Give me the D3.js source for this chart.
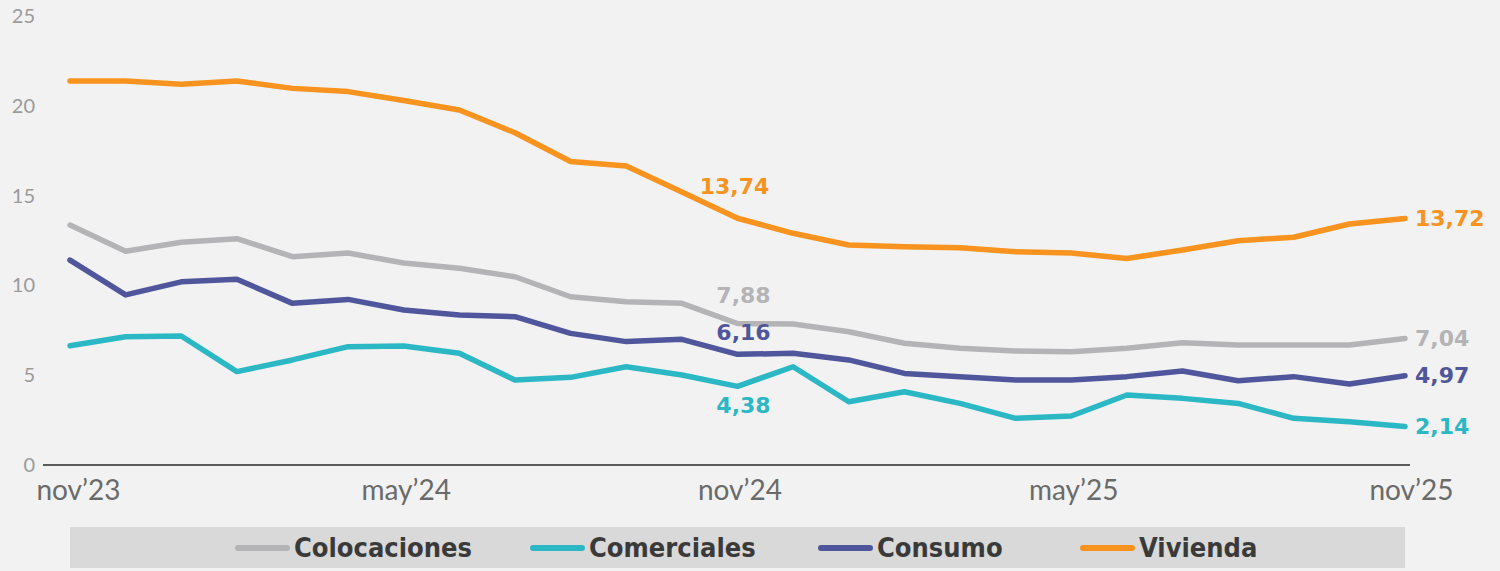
<!DOCTYPE html>
<html>
<head>
<meta charset="utf-8">
<script src="https://cdn.jsdelivr.net/npm/d3@7"></script>
<style>
  html, body { margin: 0; padding: 0; background: #f2f2f2; }
  svg { display: block; }
  .tick line { display: none; }
</style>
</head>
<body>
<script>
// Dimensions
const width = 1500, height = 571;
const margin = { left: 70, right: 95, top: 16, bottom: 106 };

// Months (nov'23 .. nov'25)
const months = ["nov’23","dic’23","ene’24","feb’24","mar’24","abr’24","may’24","jun’24","jul’24","ago’24","sep’24","oct’24",
                "nov’24","dic’24","ene’25","feb’25","mar’25","abr’25","may’25","jun’25","jul’25","ago’25","sep’25","oct’25","nov’25"];
const tickMonths = ["nov’23","may’24","nov’24","may’25","nov’25"];
const yTicks = [0, 5, 10, 15, 20, 25];

// Series values (%)
const colocaciones = [13.36, 11.9, 12.4, 12.6, 11.6, 11.8, 11.25, 10.95, 10.48, 9.37, 9.09, 9.0, 7.88,
                      7.85, 7.42, 6.78, 6.5, 6.35, 6.31, 6.5, 6.81, 6.68, 6.68, 6.68, 7.04];
const comerciales  = [6.64, 7.14, 7.18, 5.2, 5.85, 6.59, 6.63, 6.22, 4.73, 4.88, 5.47, 5.01, 4.38,
                      5.47, 3.52, 4.08, 3.43, 2.6, 2.73, 3.9, 3.71, 3.43, 2.6, 2.41, 2.14];
const consumo      = [11.41, 9.47, 10.2, 10.34, 9.0, 9.22, 8.63, 8.35, 8.26, 7.33, 6.87, 7.0, 6.16,
                      6.22, 5.85, 5.1, 4.92, 4.73, 4.73, 4.92, 5.23, 4.69, 4.92, 4.51, 4.97];
const vivienda     = [21.38, 21.38, 21.2, 21.38, 20.97, 20.79, 20.3, 19.77, 18.5, 16.9, 16.65, 15.2, 13.74,
                      12.9, 12.25, 12.15, 12.1, 11.88, 11.8, 11.5, 11.97, 12.49, 12.68, 13.42, 13.72];

const seriesNames = ["Colocaciones", "Comerciales", "Consumo", "Vivienda"];
const seriesColors = ["#b4b4b7", "#2cb7c5", "#50569b", "#f7931e"];
const seriesValues = [colocaciones, comerciales, consumo, vivienda];

// labels at nov'24: vertical offset from the point
const midOffsets = [-28, 19, -22, -32];

const series = seriesNames.map((name, i) => ({
  name, color: seriesColors[i], values: seriesValues[i], midOffset: midOffsets[i]
}));

const svg = d3.select("body").append("svg")
    .attr("width", width)
    .attr("height", height);

svg.append("rect").attr("width", width).attr("height", height).attr("fill", "#f2f2f2");

const x = d3.scalePoint()
    .domain(months)
    .range([margin.left, width - margin.right]);

const y = d3.scaleLinear()
    .domain([0, 25])
    .range([height - margin.bottom, margin.top]);

// y axis labels
svg.append("g")
    .selectAll("text")
    .data(yTicks)
    .enter()
    .append("text")
    .attr("x", 35)
    .attr("y", d => y(d))
    .attr("dy", "0.35em")
    .attr("text-anchor", "end")
    .attr("font-family", "Lato, sans-serif")
    .attr("font-size", 20)
    .attr("fill", "#9a9a9a")
    .text(d => d);

// x axis
const xAxis = svg.append("g")
    .attr("transform", `translate(0,${y(0)})`)
    .call(d3.axisBottom(x).tickValues(tickMonths).tickSize(0).tickPadding(15));
xAxis.select(".domain")
    .attr("d", `M43,0H1410`)
    .attr("stroke", "#5a5a5a")
    .attr("stroke-width", 2);
xAxis.selectAll("text")
    .attr("font-family", "Lato, sans-serif")
    .attr("font-size", 28)
    .attr("fill", "#6a6a6a")
    .attr("dx", (d, i) => i === 0 ? 8 : (i === tickMonths.length - 1 ? 6 : 2));

// lines
const line = d3.line()
    .x((d, i) => x(months[i]))
    .y(d => y(d));

svg.append("g")
    .selectAll("path")
    .data(series)
    .enter()
    .append("path")
    .attr("d", d => line(d.values))
    .attr("fill", "none")
    .attr("stroke", d => d.color)
    .attr("stroke-width", 5.5)
    .attr("stroke-linejoin", "round")
    .attr("stroke-linecap", "round");

const fmt = v => d3.format(".2f")(v).replace(".", ",");

// labels at nov'24
svg.append("g")
    .selectAll("text")
    .data(series)
    .enter()
    .append("text")
    .attr("x", (d, i) => x("nov’24") + (i === 3 ? -3 : 6))
    .attr("y", d => y(d.values[12]) + d.midOffset)
    .attr("dy", "0.35em")
    .attr("text-anchor", "middle")
    .attr("font-family", "DejaVu Sans, sans-serif")
    .attr("font-weight", "bold")
    .attr("font-size", 22)
    .attr("fill", d => d.color)
    .text(d => fmt(d.values[12]));

// end labels
svg.append("g")
    .selectAll("text")
    .data(series)
    .enter()
    .append("text")
    .attr("x", x("nov’25") + 10)
    .attr("y", d => y(d.values[d.values.length - 1]))
    .attr("dy", "0.35em")
    .attr("font-family", "DejaVu Sans, sans-serif")
    .attr("font-weight", "bold")
    .attr("font-size", 22)
    .attr("fill", d => d.color)
    .text(d => fmt(d.values[d.values.length - 1]));

// legend
const legend = svg.append("g");
legend.append("rect")
    .attr("x", 70).attr("y", 527)
    .attr("width", 1335).attr("height", 41)
    .attr("fill", "#d9d9d9");

const legendX = [235, 530, 818, 1080];
const items = legend.selectAll("g.item")
    .data(series)
    .enter()
    .append("g")
    .attr("class", "item")
    .attr("transform", (d, i) => `translate(${legendX[i]},548)`);
items.append("line")
    .attr("x1", 3).attr("x2", 52)
    .attr("stroke", d => d.color)
    .attr("stroke-width", 6)
    .attr("stroke-linecap", "round");
items.append("text")
    .attr("x", 59)
    .attr("dy", "0.35em")
    .attr("font-family", "DejaVu Sans Condensed, DejaVu Sans, sans-serif")
    .attr("font-weight", "bold")
    .attr("font-size", 27)
    .attr("fill", "#3a3a3a")
    .text(d => d.name);
</script>
</body>
</html>
